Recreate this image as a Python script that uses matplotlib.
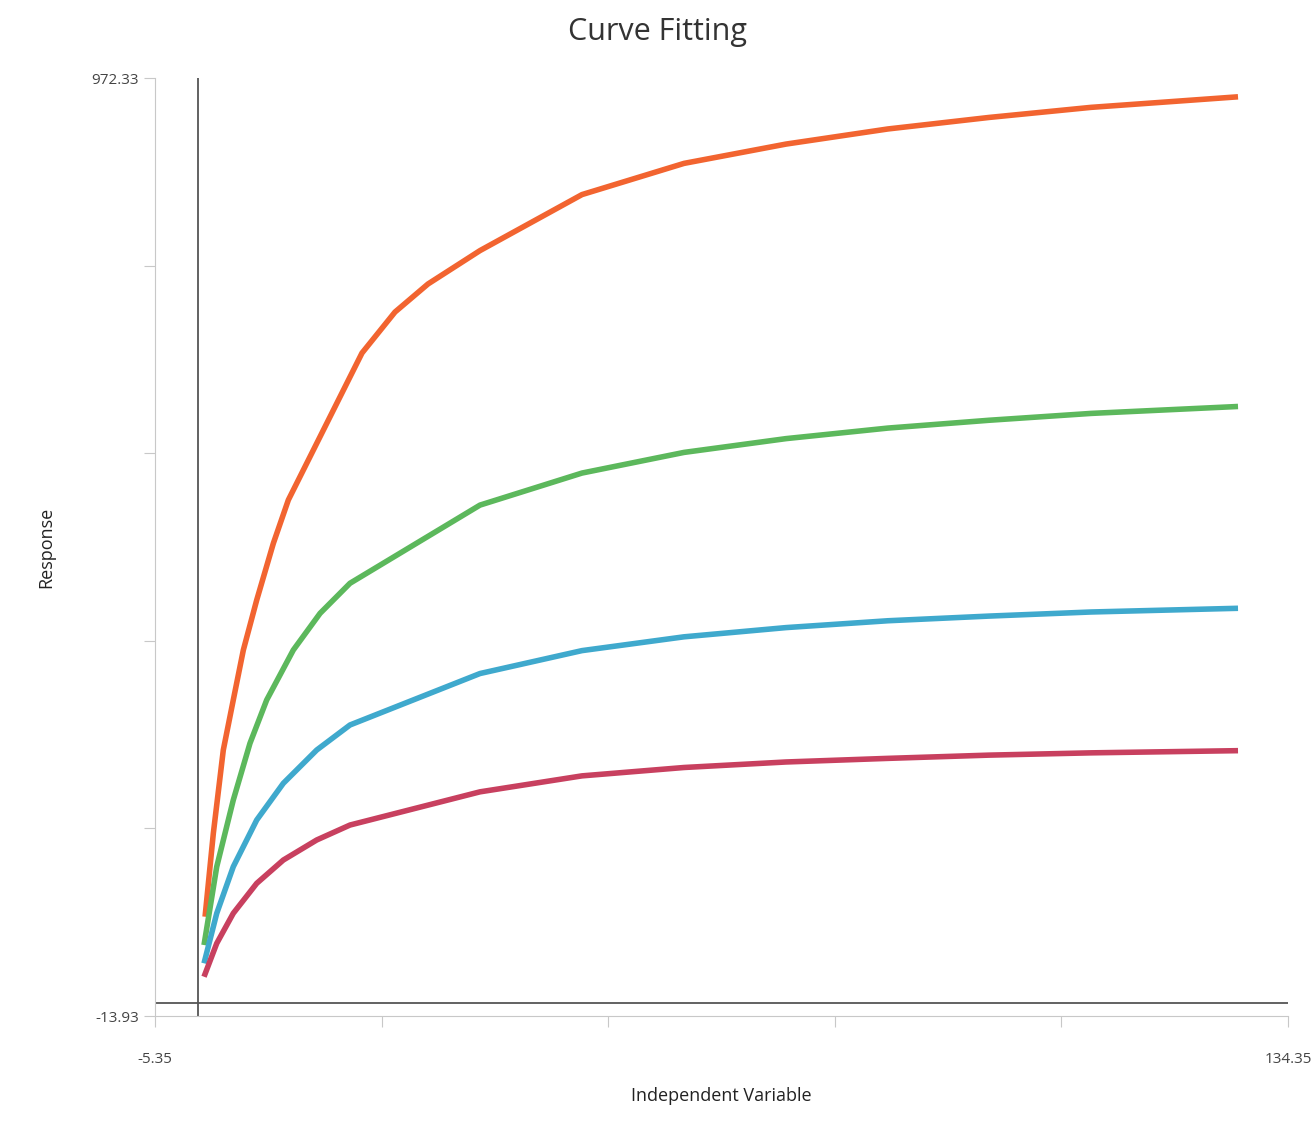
import matplotlib.pyplot as plt
import numpy as np

plt.rcParams["font.family"] = ["Open Sans", "DejaVu Sans"]

# values
x_orange = [0.82, 1.84, 3.07, 4.30, 5.54, 7.19, 9.24, 11.09, 20.17, 24.24, 28.31,
            34.72, 47.30, 59.88, 72.46, 85.03, 97.49, 110.06, 128.19]
y_orange = [90.5, 178.2, 265.8, 318.4, 370.9, 423.5, 483.1, 528.7, 683.2, 726.3, 755.8,
            790.9, 849.8, 882.6, 902.9, 918.8, 930.9, 941.5, 952.6]

x_green = [0.69, 2.26, 4.30, 6.36, 8.42, 11.70, 15.00, 18.69,
           34.72, 47.30, 59.88, 72.46, 85.03, 97.49, 110.06, 128.19]
y_green = [60.7, 143.1, 213.2, 272.9, 318.4, 370.9, 409.5, 441.1,
           523.3, 557.0, 578.7, 593.2, 604.3, 612.5, 619.7, 627.0]

x_low = [0.69, 2.26, 4.30, 7.19, 10.47, 14.59, 18.69,
         34.72, 47.30, 59.88, 72.46, 85.03, 97.49, 110.06, 128.19]
y_blue = [41.5, 94.1, 143.1, 192.2, 230.8, 265.8, 292.1,
          346.2, 370.3, 384.8, 394.5, 401.7, 406.6, 410.9, 414.8]
y_pink = [27.4, 62.5, 94.1, 125.6, 150.1, 171.2, 186.9,
          221.8, 238.6, 247.4, 253.2, 257.0, 260.4, 262.8, 265.1]

xmin, xmax = -5.35, 134.35
ymin, ymax = -13.93, 972.33

fig = plt.figure(figsize=(13.16, 11.36), dpi=100)
ax = fig.add_axes([0.1178, 0.1056, 0.8609, 0.8257])

ax.axvline(0, color="#555555", lw=1.3, zorder=1)
ax.axhline(0, color="#555555", lw=1.3, zorder=1)

kw = dict(lw=4, solid_capstyle="butt", solid_joinstyle="round")
ax.plot(x_orange, y_orange, color="#f26430", **kw)
ax.plot(x_green, y_green, color="#5cb85c", **kw)
ax.plot(x_low, y_blue, color="#3fa9cd", **kw)
ax.plot(x_low, y_pink, color="#c8405f", **kw)

ax.set_xlim(xmin, xmax)
ax.set_ylim(ymin, ymax)
ax.set_xticks(np.linspace(xmin, xmax, 6))
ax.set_xticklabels([f"{xmin:.2f}", "", "", "", "", f"{xmax:.2f}"])
ax.set_yticks(np.linspace(ymin, ymax, 6))
ax.set_yticklabels([f"{ymin:.2f}", "", "", "", "", f"{ymax:.2f}"])
for s in ["top", "right"]:
    ax.spines[s].set_visible(False)
for s in ["left", "bottom"]:
    ax.spines[s].set_color("#c8c8c8")
ax.tick_params(colors="#c8c8c8", labelcolor="#444444", labelsize=11, length=8)
ax.tick_params(axis="x", pad=18)

fig.suptitle("Curve Fitting", x=0.5, y=0.985, fontsize=22, color="#333333")
ax.set_xlabel("Independent Variable", fontsize=13, color="#222222", labelpad=14)
ax.set_ylabel("Response", fontsize=13, color="#222222", labelpad=26)

fig.savefig("out.png", dpi=100)
